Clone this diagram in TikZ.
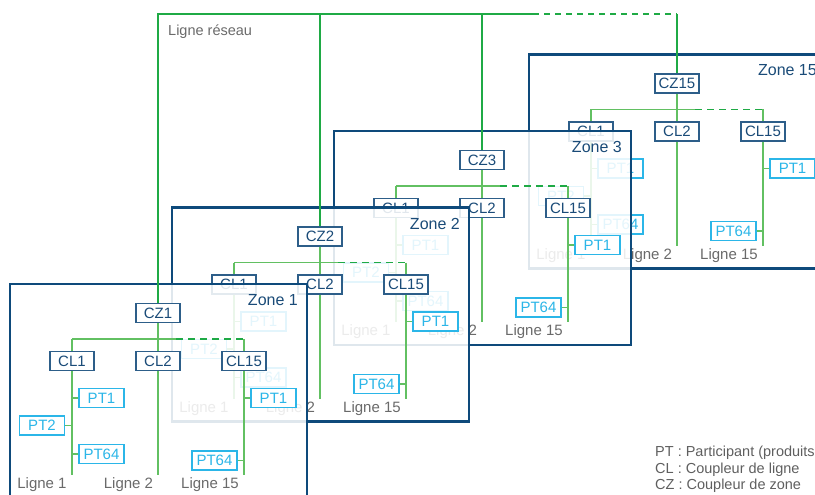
\documentclass[tikz,border=0pt]{standalone}
\usepackage{fontspec}
\setmainfont{Liberation Sans}
\definecolor{navy}{HTML}{0E4A7B}
\definecolor{boxnavy}{HTML}{2D5E89}
\definecolor{textnavy}{HTML}{1A4B78}
\definecolor{ptcyan}{HTML}{2BB6E8}
\definecolor{netgreen}{HTML}{1FAA45}
\definecolor{busgreen}{HTML}{62C062}
\definecolor{labelgray}{HTML}{6A6A6A}
\tikzset{
  zoneborder/.style={draw=navy, line width=2.6pt},
  czbox/.style={draw=boxnavy, line width=1.3pt, fill=white, text=textnavy,
    minimum width=44pt, minimum height=19pt, inner sep=0pt,
    font=\fontsize{15pt}{18pt}\selectfont},
  ptbox/.style={draw=ptcyan, line width=1.3pt, fill=white, text=ptcyan,
    minimum width=45pt, minimum height=19pt, inner sep=0pt,
    font=\fontsize{15pt}{18pt}\selectfont},
  busline/.style={draw=busgreen, line width=1.5pt},
  busdash/.style={draw=netgreen, line width=1.8pt, dash pattern=on 7pt off 5pt},
  netline/.style={draw=netgreen, line width=2.4pt},
  netdash/.style={netline, dash pattern=on 6pt off 5pt},
  lignelabel/.style={text=labelgray, inner sep=0pt, font=\fontsize{15pt}{18pt}\selectfont},
  zonetitle/.style={text=textnavy, inner sep=0pt, font=\fontsize{16pt}{19pt}\selectfont},
  legendtext/.style={text=labelgray!90!black, inner sep=0pt, anchor=west, font=\fontsize{14.5pt}{17pt}\selectfont},
}
\newcommand\drawzone[3]{%
\begin{scope}[shift={(#1,#2)}]
  \fill[white, fill opacity=0.87] (-148,-29) rectangle (149,185);
  \draw[zoneborder] (-148,-29) rectangle (149,185);
  \node[zonetitle, anchor=east] (z#3title) at (140,-13) {Zone #3};
  \node[czbox] (z#3cz) at (0,0) {CZ#3};
  \node[czbox] (z#3clA) at (-86,48) {CL1};
  \node[czbox] (z#3clB) at (0,48) {CL2};
  \node[czbox] (z#3clC) at (86,48) {CL15};
  \coordinate (z#3busA) at (-86,26);
  \coordinate (z#3busD) at (18,26);
  \coordinate (z#3busC) at (86,26);
  \coordinate (z#3endA) at (-86,162);
  \coordinate (z#3endB) at (0,162);
  \coordinate (z#3endC) at (86,162);
  \node[ptbox] (z#3ptA1) at (-56.5,85) {PT1};
  \node[ptbox] (z#3ptA2) at (-116,112.5) {PT2};
  \node[ptbox] (z#3ptA64) at (-56.5,141) {PT64};
  \node[ptbox] (z#3ptC1) at (115.5,85) {PT1};
  \node[ptbox] (z#3ptC64) at (56.5,147.5) {PT64};
  \draw[busline] (z#3cz) -- (z#3clB);
  \draw[busline] (z#3busA) -- (z#3busD);
  \draw[busdash] (z#3busD) -- (z#3busC);
  \draw[busline] (z#3busA) -- (z#3clA);
  \draw[busline] (z#3busC) -- (z#3clC);
  \draw[busline] (z#3clA) -- (z#3endA);
  \draw[busline] (z#3clB) -- (z#3endB);
  \draw[busline] (z#3clC) -- (z#3endC);
  \draw[busline] (z#3ptA1.west) -- (z#3ptA1.west -| z#3endA);
  \draw[busline] (z#3ptA2.east) -- (z#3ptA2.east -| z#3endA);
  \draw[busline] (z#3ptA64.west) -- (z#3ptA64.west -| z#3endA);
  \draw[busline] (z#3ptC1.west) -- (z#3ptC1.west -| z#3endC);
  \draw[busline] (z#3ptC64.east) -- (z#3ptC64.east -| z#3endC);
  \node[lignelabel] (z#3lA) at (-116,172) {Ligne 1};
  \node[lignelabel] (z#3lB) at (-29.5,172) {Ligne 2};
  \node[lignelabel] (z#3lC) at (52,172) {Ligne 15};
\end{scope}}
\begin{document}
\begin{tikzpicture}[x=1pt,y=-1pt]
  \useasboundingbox (0,0) rectangle (815,495);
  \drawzone{677}{83.5}{15}
  \drawzone{482}{160}{3}
  \drawzone{320}{236.5}{2}
  \drawzone{158}{313}{1}
  % network line
  \coordinate (netD) at (533,14);
  \coordinate (netR) at (677,14);
  \draw[netline] (z1cz) |- (netD);
  \draw[netdash] (netD) -- (netR);
  \draw[netline] (z15cz) -- (netR);
  \draw[netline] (z2cz) -- (z2cz |- netD);
  \draw[netline] (z3cz) -- (z3cz |- netD);
  \node[lignelabel, anchor=west, font=\fontsize{14.5pt}{17pt}\selectfont] (netlabel) at (168,32) {Ligne réseau};
  % legend
  \node[legendtext] (legPT) at (655,453) {PT : Participant (produits};
  \node[legendtext] (legCL) at (655,470) {CL : Coupleur de ligne};
  \node[legendtext] (legCZ) at (655,486) {CZ : Coupleur de zone};
\end{tikzpicture}
\end{document}
